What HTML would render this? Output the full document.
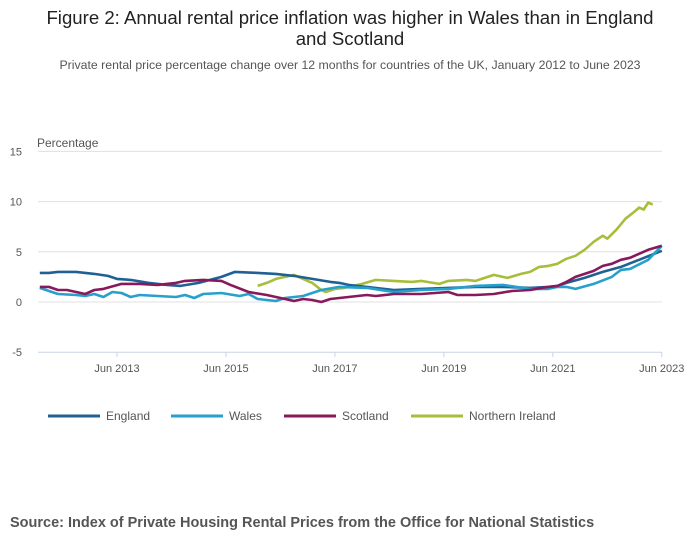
<!DOCTYPE html>
<html><head><meta charset="utf-8"><style>
body{margin:0;background:#fff;font-family:"Liberation Sans",sans-serif;}
#wrap{position:relative;width:700px;height:549px;overflow:hidden;}
</style></head><body>
<div id="wrap">
<svg id="chart" width="700" height="549" xmlns="http://www.w3.org/2000/svg">
<text x="350" y="24" text-anchor="middle" font-size="18.6" fill="#222">Figure 2: Annual rental price inflation was higher in Wales than in England</text>
<text x="350" y="45" text-anchor="middle" font-size="18.6" fill="#222">and Scotland</text>
<text x="350" y="69" text-anchor="middle" font-size="12.3" fill="#555">Private rental price percentage change over 12 months for countries of the UK, January 2012 to June 2023</text>
<text x="37" y="147" font-size="12" fill="#555">Percentage</text>
<g id="grid"></g><g id="xaxis"></g><g id="lines"></g><g id="legend"></g>
<text x="10" y="527" font-size="14.5" font-weight="bold" fill="#555">Source: Index of Private Housing Rental Prices from the Office for National Statistics</text>
</svg>
</div>
<script>
const yTicks=[15,10,5,0,-5];
const xTickMonths=[17,41,65,89,113,137];
const xTickLabels=["Jun 2013","Jun 2015","Jun 2017","Jun 2019","Jun 2021","Jun 2023"];
const seriesNames=["England","Wales","Scotland","Northern Ireland"];
const seriesColors=["#206095","#27a0cc","#871a5b","#a8bd3a"];
const englandM=[0,2,4,8,12,15,17,20,24,28,31,35,40,43,48,52,56,60,64,66,68,72,78,84,90,96,102,108,112,114,116,120,124,128,132,137];
const englandV=[2.9,2.9,3.0,3.0,2.8,2.6,2.3,2.2,1.9,1.7,1.6,1.9,2.5,3.0,2.9,2.8,2.6,2.3,2.0,1.9,1.7,1.5,1.2,1.3,1.4,1.5,1.5,1.4,1.5,1.6,1.9,2.4,3.0,3.5,4.2,5.1];
const walesM=[0,2,4,8,10,12,14,16,18,20,22,26,30,32,34,36,40,44,46,48,52,54,58,62,66,72,78,84,90,96,102,108,112,114,116,118,122,126,128,130,134,137];
const walesV=[1.4,1.1,0.8,0.7,0.6,0.8,0.5,1.0,0.9,0.5,0.7,0.6,0.5,0.7,0.4,0.8,0.9,0.6,0.8,0.3,0.1,0.4,0.6,1.2,1.5,1.4,1.0,1.2,1.3,1.6,1.7,1.3,1.3,1.5,1.5,1.3,1.8,2.5,3.2,3.3,4.2,5.6];
const scotlandM=[0,2,4,6,10,12,14,18,22,26,30,32,36,40,42,46,50,54,56,58,60,62,64,66,68,72,74,78,84,90,92,96,100,104,108,112,114,116,118,120,122,124,126,128,130,132,134,137];
const scotlandV=[1.5,1.5,1.2,1.2,0.8,1.2,1.3,1.8,1.8,1.7,1.9,2.1,2.2,2.1,1.7,1.0,0.7,0.3,0.1,0.3,0.2,0.0,0.3,0.4,0.5,0.7,0.6,0.8,0.8,1.0,0.7,0.7,0.8,1.1,1.2,1.5,1.6,2.0,2.5,2.8,3.1,3.6,3.8,4.2,4.4,4.8,5.2,5.6];
const niM=[48,50,52,54,56,58,60,62,63,65,67,69,71,74,78,82,84,88,90,94,96,98,100,102,103,106,108,110,112,114,116,118,120,122,124,125,127,129,131,132,133,134,135];
const niV=[1.6,1.9,2.3,2.5,2.7,2.3,1.9,1.2,1.0,1.3,1.4,1.6,1.8,2.2,2.1,2.0,2.1,1.8,2.1,2.2,2.1,2.4,2.7,2.5,2.4,2.8,3.0,3.5,3.6,3.8,4.3,4.6,5.2,6.0,6.6,6.3,7.2,8.3,9.0,9.4,9.2,9.9,9.7];
const NS="http://www.w3.org/2000/svg";
const x=m=>39.8+m*4.54;
const y=v=>302-v*10.04;
function mk(tag,attrs,parent){const e=document.createElementNS(NS,tag);for(const k in attrs)e.setAttribute(k,attrs[k]);parent.appendChild(e);return e;}
const grid=document.getElementById('grid');
yTicks.forEach(t=>{
  const l=mk('line',{x1:38,x2:662,y1:y(t),y2:y(t),stroke:t===-5?'#c7d4e3':'#e0e0e0','stroke-width':1},grid);
  
  
  const tx=mk('text',{x:22,y:y(t)+4,'text-anchor':'end','font-size':11,fill:'#555'},grid);
  tx.textContent=t;
  
  
});
const xa=document.getElementById('xaxis');
xTickMonths.forEach((m,i)=>{
  const l=mk('line',{x1:x(m),x2:x(m),y1:352,y2:357,stroke:'#c7d4e3'},xa);
  
  
  const tx=mk('text',{x:x(m),y:372,'text-anchor':'middle','font-size':11,fill:'#555'},xa);
  tx.textContent=xTickLabels[i];
  
  
});
const lines=document.getElementById('lines');
const allM=[englandM,walesM,scotlandM,niM], allV=[englandV,walesV,scotlandV,niV];
[3,0,1,2].forEach(i=>{
  const pts=allM[i].map((m,j)=>x(m).toFixed(1)+','+y(allV[i][j]).toFixed(1)).join(' ');
  const p=mk('polyline',{points:pts,fill:'none',stroke:seriesColors[i],'stroke-width':2.6,'stroke-linejoin':'round'},lines);
  
  
});
const lg=document.getElementById('legend');
const lx=[48,171,284,411];
seriesNames.forEach((n,i)=>{
  const g=mk('g',{},lg);
  
  
  mk('line',{x1:lx[i],x2:lx[i]+52,y1:416,y2:416,stroke:seriesColors[i],'stroke-width':3},g);
  const t=mk('text',{x:lx[i]+58,y:420,'font-size':12,fill:'#555'},g);
  t.textContent=n;
});
</script>
</body></html>
